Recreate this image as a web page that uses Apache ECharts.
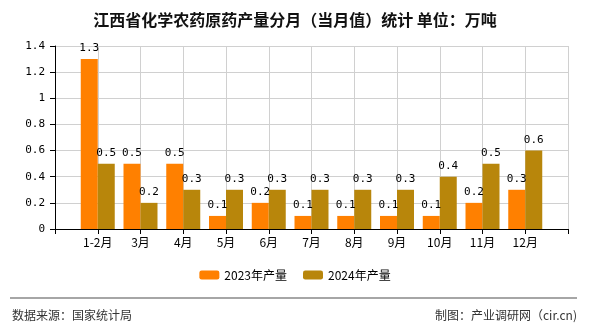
<!DOCTYPE html>
<html><head><meta charset="utf-8">
<script src="https://cdn.jsdelivr.net/npm/echarts@6/dist/echarts.min.js"></script>
<style>html,body{margin:0;padding:0;background:#fff}#c{width:590px;height:330px}</style>
</head><body><div id="c"></div>
<script>
const categories = ['1-2月','3月','4月','5月','6月','7月','8月','9月','10月','11月','12月'];
const values2023 = [1.3,0.5,0.5,0.1,0.2,0.1,0.1,0.1,0.1,0.2,0.3];
const values2024 = [0.5,0.2,0.3,0.3,0.3,0.3,0.3,0.3,0.4,0.5,0.6];
const seriesNames = ['2023年产量','2024年产量'];
const yTicks = [0,0.2,0.4,0.6,0.8,1,1.2,1.4];

const axisCats = [' '].concat(categories, ['  ']);
const pad = arr => [null].concat(arr, [null]);
const numFont = 'DejaVu Sans Mono';
const cjk = '"Noto Sans CJK SC", sans-serif';

const chart = echarts.init(document.getElementById('c'), null, {renderer:'canvas'});
const labelCfg = {show:true, position:'top', distance:5, color:'#000', fontSize:11, fontFamily:numFont};
chart.setOption({
  animation:false,
  title:{text:'江西省化学农药原药产量分月（当月值）统计 单位：万吨', left:'center', top:7,
    textStyle:{fontSize:16, fontWeight:'bold', color:'#111', fontFamily:cjk}},
  legend:{bottom:44, left:'center', itemWidth:20, itemHeight:9, itemGap:16,
    textStyle:{fontSize:12, color:'#000', fontFamily:cjk}, data:seriesNames},
  grid:{left:55, right:22, top:46, bottom:101},
  xAxis:{type:'category', data:axisCats, boundaryGap:false,
    axisLine:{lineStyle:{color:'#000', width:1}},
    axisTick:{show:true, length:5, interval:0, lineStyle:{color:'#000'}},
    axisLabel:{interval:0, color:'#000', fontSize:12, margin:7, fontFamily:cjk},
    splitLine:{show:true, interval:0, lineStyle:{color:'#d0d0d0', width:1}}},
  yAxis:{type:'value', min:yTicks[0], max:yTicks[yTicks.length-1], interval:0.2,
    axisLine:{show:true, lineStyle:{color:'#000'}},
    axisTick:{show:true, length:5, lineStyle:{color:'#000'}},
    axisLabel:{color:'#000', fontSize:11, margin:10, fontFamily:numFont,
      formatter:v=>String(Math.round(v*10)/10)},
    splitLine:{show:true, lineStyle:{color:'#d0d0d0', width:1}}},
  series:[
    {name:seriesNames[0], type:'bar', data:pad(values2023), barWidth:17, barGap:'0%',
      itemStyle:{color:'#FF8000'}, label:labelCfg},
    {name:seriesNames[1], type:'bar', data:pad(values2024), barWidth:17, barGap:'0%',
      itemStyle:{color:'#B8860B'}, label:labelCfg}
  ],
  graphic:[
    {type:'line', shape:{x1:10, y1:298, x2:577, y2:298}, style:{stroke:'#888', lineWidth:1.5}},
    {type:'text', left:12, top:309, style:{text:'数据来源：国家统计局', fill:'#333', font:'12px "Noto Sans CJK SC", sans-serif'}},
    {type:'text', right:13, top:309, style:{text:'制图：产业调研网（cir.cn)', fill:'#333', font:'12px "Noto Sans CJK SC", sans-serif'}}
  ]
});
</script></body></html>
